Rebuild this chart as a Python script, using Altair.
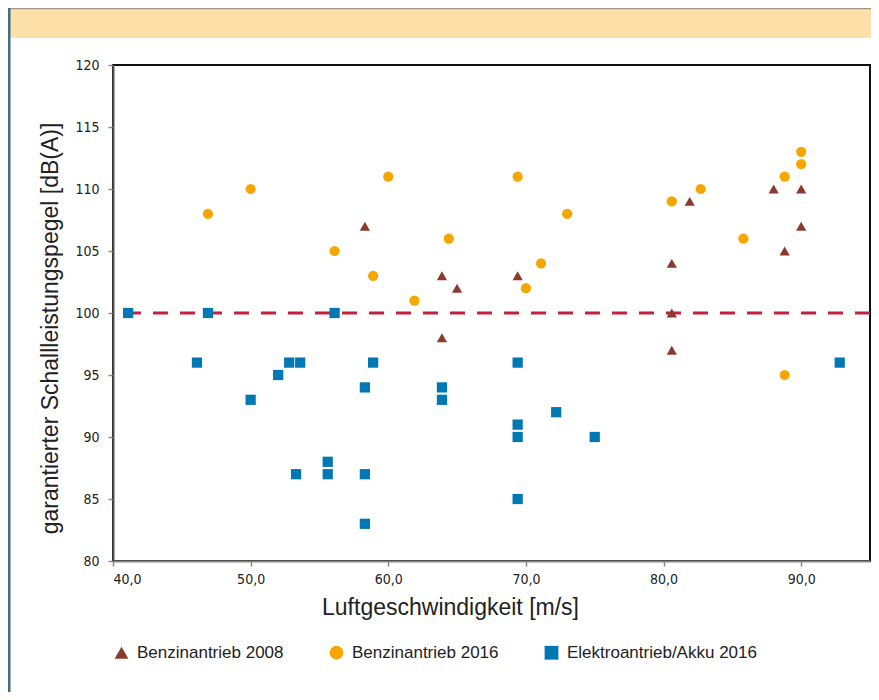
import altair as alt
import pandas as pd

# ---- data ----
series_names = ["Benzinantrieb 2008", "Benzinantrieb 2016", "Elektroantrieb/Akku 2016"]

b08_x = [58.3, 63.9, 65.0, 63.9, 69.4, 80.6, 80.6, 80.6, 81.9, 88.0, 90.0, 90.0, 88.8]
b08_y = [107, 103, 102, 98, 103, 104, 100, 97, 109, 110, 110, 107, 105]

b16_x = [46.9, 50.0, 56.1, 58.9, 60.0, 61.9, 64.4, 69.4, 70.0, 71.1, 73.0, 80.6, 82.7,
         85.8, 88.8, 90.0, 90.0, 88.8]
b16_y = [108, 110, 105, 103, 111, 101, 106, 111, 102, 104, 108, 109, 110,
         106, 111, 112, 113, 95]

elk_x = [41.1, 46.9, 56.1, 46.1, 52.8, 53.6, 58.9, 52.0, 50.0, 58.3, 63.9, 63.9,
         55.6, 53.3, 55.6, 58.3, 58.3, 69.4, 72.2, 69.4, 69.4, 75.0, 69.4, 92.8]
elk_y = [100, 100, 100, 96, 96, 96, 96, 95, 93, 94, 94, 93,
         88, 87, 87, 87, 83, 96, 92, 91, 90, 90, 85, 96]

limit_value = [100]
x_ticks = [40, 50, 60, 70, 80, 90]
y_ticks = [80, 85, 90, 95, 100, 105, 110, 115, 120]

colors = ["#8C3A2E", "#F5A700", "#0078B4"]
shapes = ["triangle-up", "circle", "square"]

rows = []
for name, xs, ys in zip(series_names, [b08_x, b16_x, elk_x], [b08_y, b16_y, elk_y]):
    for xv, yv in zip(xs, ys):
        rows.append({"serie": name, "v": xv, "db": yv})
df = pd.DataFrame(rows)
limit_df = pd.DataFrame({"db": limit_value})

W, H = 757, 496
PAD_L, PAD_T, PAD_R, PAD_B = 105, 57, 1, 131

label_font = "Liberation Sans Narrow, DejaVu Sans Condensed, Arial Narrow, sans-serif"
title_font = "Liberation Sans, Arial, sans-serif"

xscale = alt.Scale(domain=[40, 95], nice=False, zero=False)
yscale = alt.Scale(domain=[80, 120], nice=False, zero=False)

x_axis = alt.Axis(
    title="Luftgeschwindigkeit [m/s]", values=x_ticks, grid=False,
    labelExpr="replace(format(datum.value, '.1f'), '.', ',')",
    labelFont=label_font, labelFontSize=14, labelColor="#222", labelPadding=6,
    tickColor="#888", tickSize=5, tickWidth=1.5,
    domainColor="#888", domainWidth=2,
    titleFont=title_font, titleFontSize=23, titleFontWeight="normal", titleColor="#222",
    titleX=337, titleY=35, titleAlign="center", titleBaseline="top",
)
y_axis = alt.Axis(
    title="garantierter Schallleistungspegel [dB(A)]", values=y_ticks, grid=False,
    labelFont=label_font, labelFontSize=14, labelColor="#222", labelPadding=9,
    tickColor="#888", tickSize=5, tickWidth=1.5,
    domainColor="#555", domainWidth=2,
    titleFont=title_font, titleFontSize=23, titleFontWeight="normal", titleColor="#222",
    titleX=-63, titleY=263, titleAlign="center", titleBaseline="middle", titleAngle=270,
)

banner = alt.Chart(limit_df).mark_rect(color="#FDE0A8").encode(
    x=alt.value(-PAD_L), x2=alt.value(W + PAD_R),
    y=alt.value(-PAD_T + 1), y2=alt.value(-27),
)
banner_top = alt.Chart(limit_df).mark_rule(color="#9A9A88", strokeWidth=1.5).encode(
    x=alt.value(-PAD_L), x2=alt.value(W + PAD_R), y=alt.value(-PAD_T + 0.5),
)
left_border = alt.Chart(limit_df).mark_rule(color="#3F6E85", strokeWidth=3).encode(
    x=alt.value(-PAD_L + 1), y=alt.value(-PAD_T), y2=alt.value(H + PAD_B),
)

limit_rule = alt.Chart(limit_df).mark_rule(
    color="#C4203C", strokeWidth=3, strokeDash=[15, 12]
).encode(y=alt.Y("db:Q", scale=yscale, axis=y_axis))

points = alt.Chart(df).mark_point(filled=True, opacity=1, size=105).encode(
    x=alt.X("v:Q", scale=xscale, axis=x_axis),
    y=alt.Y("db:Q", scale=yscale, axis=y_axis),
    color=alt.Color("serie:N", scale=alt.Scale(domain=series_names, range=colors),
                    legend=alt.Legend(title=None)),
    shape=alt.Shape("serie:N", scale=alt.Scale(domain=series_names, range=shapes),
                    legend=alt.Legend(title=None)),
)

chart = alt.layer(banner, banner_top, left_border, limit_rule, points).properties(
    width=W, height=H,
    autosize=alt.AutoSizeParams(type="none"),
    padding={"left": PAD_L, "top": PAD_T, "right": PAD_R, "bottom": PAD_B},
).configure_view(
    stroke="#111", strokeWidth=2
).configure_legend(
    orient="none", legendX=0, legendY=579, direction="horizontal",
    labelFont=title_font, labelFontSize=17, labelColor="#222", labelLimit=400,
    symbolSize=190, symbolStrokeWidth=0, columnPadding=44, labelOffset=7,
)

chart.save("out.html", embed_options={"renderer": "svg", "actions": False})
